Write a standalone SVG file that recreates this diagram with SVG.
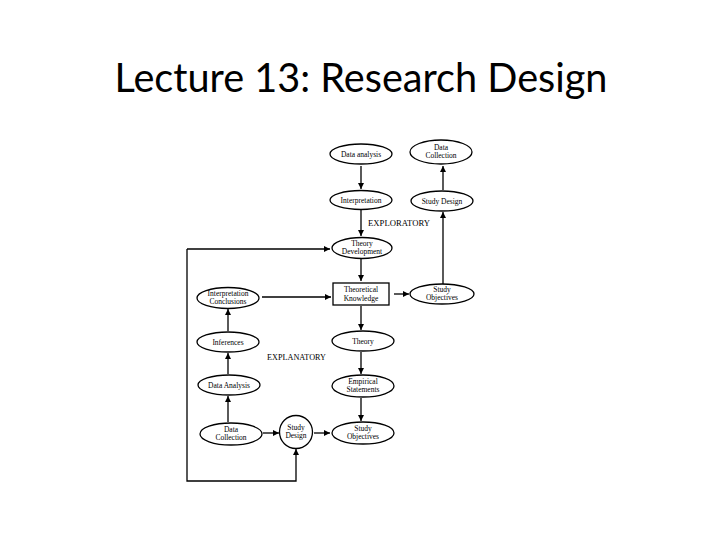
<svg xmlns="http://www.w3.org/2000/svg" width="720" height="540" viewBox="0 0 720 540">
<style>
.n{fill:#fff;stroke:#000;stroke-width:1.3}
.t{font-family:"Liberation Serif","Times New Roman",serif;font-size:7.5px;fill:#000;text-anchor:middle}
.c{fill:none;stroke:#000;stroke-width:1.3}
.lbl{font-family:"Liberation Serif","Times New Roman",serif;font-size:8.5px;fill:#000}
</style>
<defs>
<marker id="ah" markerUnits="userSpaceOnUse" markerWidth="7" markerHeight="6" refX="6" refY="3" orient="auto">
<path d="M0,0 L6,3 L0,6 z" fill="#000"/>
</marker>
</defs>
<rect width="720" height="540" fill="#fff"/>
<text x="361" y="92" font-family="Lato,'Liberation Sans',sans-serif" font-size="40" textLength="493" lengthAdjust="spacingAndGlyphs" text-anchor="middle" fill="#000">Lecture 13: Research Design</text>

<g id="connectors">
<path class="c" d="M361,166 V189" marker-end="url(#ah)"/>
<path class="c" d="M443,190 V166" marker-end="url(#ah)"/>
<path class="c" d="M361,210 V236" marker-end="url(#ah)"/>
<path class="c" d="M361,259 V281" marker-end="url(#ah)"/>
<path class="c" d="M443,284 V212" marker-end="url(#ah)"/>
<path class="c" d="M394,294 H409" marker-end="url(#ah)"/>
<path class="c" d="M262,297 H331" marker-end="url(#ah)"/>
<path class="c" d="M361,306 V330" marker-end="url(#ah)"/>
<path class="c" d="M361,352 V374" marker-end="url(#ah)"/>
<path class="c" d="M361,398 V421" marker-end="url(#ah)"/>
<path class="c" d="M228,331 V309" marker-end="url(#ah)"/>
<path class="c" d="M228,374 V353" marker-end="url(#ah)"/>
<path class="c" d="M228,422 V396" marker-end="url(#ah)"/>
<path class="c" d="M263,433 H279" marker-end="url(#ah)"/>
<path class="c" d="M314,433 H330" marker-end="url(#ah)"/>
<path class="c" d="M187,249 V481 H296 V449" marker-end="url(#ah)"/>
<path class="c" d="M187,249 H330" marker-end="url(#ah)"/>
</g>

<g id="data-analysis-top"><ellipse class="n" cx="361" cy="154" rx="31" ry="10"/><text class="t" x="361" y="157">Data analysis</text></g>
<g id="data-collection-top"><ellipse class="n" cx="441" cy="152" rx="31" ry="12"/><text class="t" x="441" y="150">Data</text><text class="t" x="441" y="158">Collection</text></g>
<g id="interpretation"><ellipse class="n" cx="361" cy="200" rx="31" ry="9.5"/><text class="t" x="361" y="203">Interpretation</text></g>
<g id="study-design-top"><ellipse class="n" cx="442" cy="201" rx="31" ry="10"/><text class="t" x="442" y="204">Study Design</text></g>
<text class="lbl" x="368" y="226" textLength="62" lengthAdjust="spacingAndGlyphs">EXPLORATORY</text>
<g id="theory-development"><ellipse class="n" cx="362" cy="248" rx="30" ry="10.5"/><text class="t" x="362" y="246">Theory</text><text class="t" x="362" y="254">Development</text></g>
<g id="theoretical-knowledge"><rect class="n" x="333" y="283" width="56" height="22"/><text class="t" x="361" y="292">Theoretical</text><text class="t" x="361" y="301">Knowledge</text></g>
<g id="study-objectives-top"><ellipse class="n" cx="442" cy="294" rx="32" ry="10"/><text class="t" x="442" y="292">Study</text><text class="t" x="442" y="300">Objectives</text></g>
<g id="interpretation-conclusions"><ellipse class="n" cx="228" cy="298" rx="31" ry="10.5"/><text class="t" x="228" y="296">Interpretation</text><text class="t" x="228" y="304">Conclusions</text></g>
<g id="inferences"><ellipse class="n" cx="228" cy="342" rx="31" ry="10"/><text class="t" x="228" y="345">Inferences</text></g>
<text class="lbl" x="267" y="360" textLength="59" lengthAdjust="spacingAndGlyphs">EXPLANATORY</text>
<g id="data-analysis-left"><ellipse class="n" cx="229" cy="385" rx="31" ry="10"/><text class="t" x="229" y="388">Data Analysis</text></g>
<g id="data-collection-left"><ellipse class="n" cx="231" cy="434" rx="31" ry="11"/><text class="t" x="231" y="432">Data</text><text class="t" x="231" y="440">Collection</text></g>
<g id="study-design-circle"><circle class="n" cx="296" cy="432" r="16.5"/><text class="t" x="296" y="430">Study</text><text class="t" x="296" y="438">Design</text></g>
<g id="theory"><ellipse class="n" cx="363" cy="341" rx="31" ry="10"/><text class="t" x="363" y="344">Theory</text></g>
<g id="empirical-statements"><ellipse class="n" cx="363" cy="386" rx="31" ry="11"/><text class="t" x="363" y="384">Empirical</text><text class="t" x="363" y="392">Statements</text></g>
<g id="study-objectives-bottom"><ellipse class="n" cx="363" cy="433" rx="31" ry="11"/><text class="t" x="363" y="431">Study</text><text class="t" x="363" y="439">Objectives</text></g>
</svg>
